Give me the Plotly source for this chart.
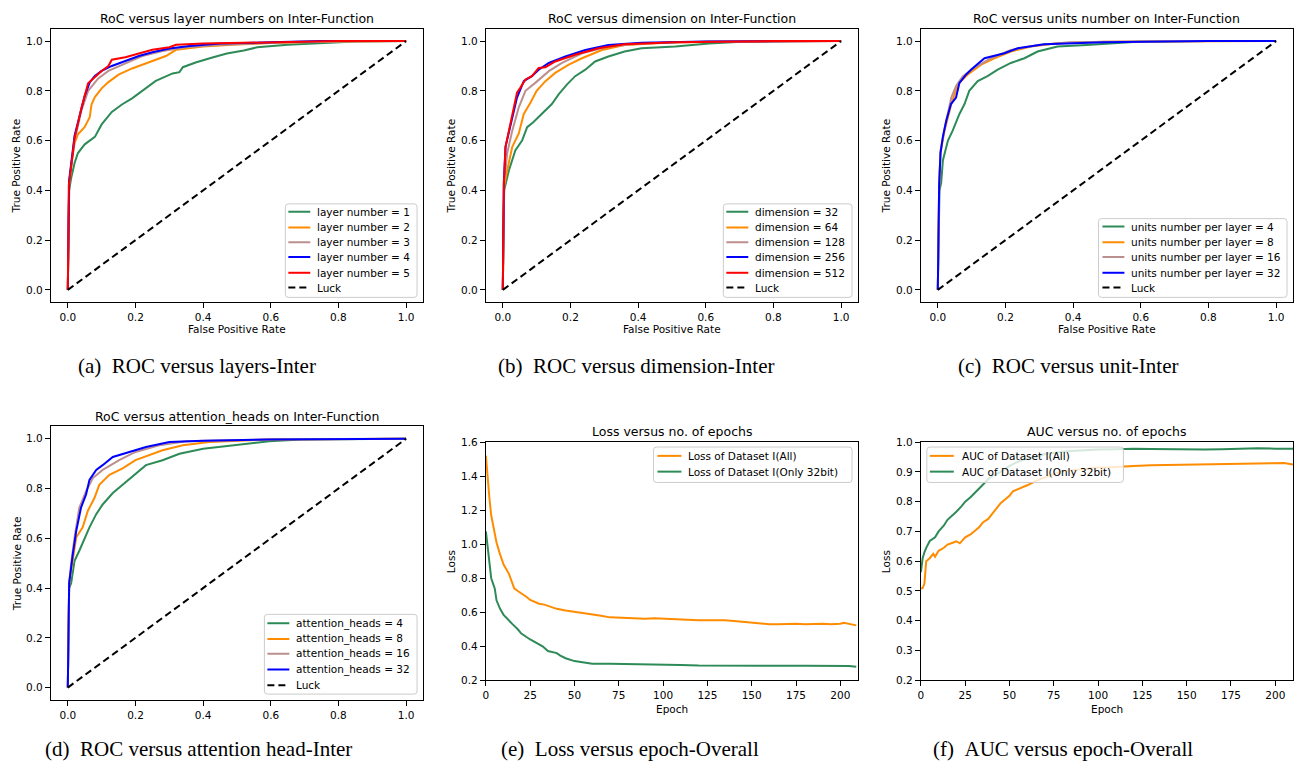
import plotly.graph_objects as go

W, H = 1301, 770

# ------------------------------------------------------------------ data
# (a) RoC versus layer numbers
A_LABELS = ["layer number = 1", "layer number = 2", "layer number = 3",
            "layer number = 4", "layer number = 5"]
A_FPR_1 = [0, 0.004, 0.01, 0.02, 0.03, 0.05, 0.08, 0.10, 0.13, 0.16, 0.19, 0.22, 0.26, 0.31,
           0.33, 0.34, 0.38, 0.43, 0.47, 0.52, 0.56, 0.65, 0.75, 0.85, 1.0]
A_TPR_1 = [0, 0.40, 0.45, 0.51, 0.55, 0.585, 0.615, 0.665, 0.715, 0.745, 0.77, 0.80, 0.84, 0.87,
           0.875, 0.895, 0.915, 0.935, 0.95, 0.962, 0.975, 0.985, 0.992, 0.998, 1.0]
A_FPR_2 = [0, 0.004, 0.012, 0.02, 0.03, 0.05, 0.065, 0.07, 0.08, 0.09, 0.10, 0.12, 0.15, 0.19,
           0.22, 0.27, 0.29, 0.32, 0.40, 0.50, 0.60, 0.80, 1.0]
A_TPR_2 = [0, 0.42, 0.52, 0.59, 0.625, 0.655, 0.695, 0.745, 0.775, 0.795, 0.81, 0.835, 0.865, 0.89,
           0.905, 0.93, 0.94, 0.965, 0.978, 0.986, 0.992, 0.998, 1.0]
A_FPR_3 = [0, 0.004, 0.02, 0.04, 0.06, 0.09, 0.12, 0.17, 0.22, 0.28, 0.35, 0.45, 0.6, 0.8, 1.0]
A_TPR_3 = [0, 0.43, 0.60, 0.72, 0.80, 0.85, 0.88, 0.91, 0.94, 0.96, 0.975, 0.985, 0.993, 0.998, 1.0]
A_FPR_4 = [0, 0.004, 0.02, 0.04, 0.05, 0.065, 0.08, 0.10, 0.13, 0.17, 0.21, 0.25, 0.30, 0.36,
           0.45, 0.6, 0.75, 1.0]
A_TPR_4 = [0, 0.44, 0.62, 0.73, 0.78, 0.835, 0.86, 0.88, 0.90, 0.92, 0.94, 0.955, 0.97, 0.98,
           0.99, 0.995, 1.0, 1.0]
A_FPR_5 = [0, 0.003, 0.02, 0.04, 0.06, 0.08, 0.10, 0.12, 0.13, 0.17, 0.21, 0.25, 0.30, 0.32,
           0.40, 0.6, 0.8, 1.0]
A_TPR_5 = [0, 0.42, 0.61, 0.73, 0.83, 0.855, 0.88, 0.90, 0.925, 0.935, 0.95, 0.965, 0.975, 0.985,
           0.99, 0.995, 1.0, 1.0]

# (b) RoC versus dimension
B_LABELS = ["dimension = 32", "dimension = 64", "dimension = 128",
            "dimension = 256", "dimension = 512"]
B_FPR_1 = [0, 0.004, 0.018, 0.037, 0.057, 0.072, 0.09, 0.116, 0.145, 0.165, 0.19, 0.214, 0.244,
           0.273, 0.312, 0.36, 0.41, 0.51, 0.61, 0.705, 0.85, 1.0]
B_TPR_1 = [0, 0.40, 0.48, 0.56, 0.60, 0.654, 0.674, 0.707, 0.747, 0.786, 0.826, 0.859, 0.885,
           0.918, 0.938, 0.958, 0.971, 0.978, 0.99, 0.997, 1.0, 1.0]
B_FPR_2 = [0, 0.004, 0.013, 0.028, 0.047, 0.062, 0.082, 0.10, 0.126, 0.155, 0.195, 0.234, 0.293,
           0.36, 0.51, 0.85, 1.0]
B_TPR_2 = [0, 0.42, 0.48, 0.575, 0.628, 0.707, 0.753, 0.80, 0.839, 0.872, 0.905, 0.931, 0.964,
           0.984, 0.995, 1.0, 1.0]
B_FPR_3 = [0, 0.004, 0.013, 0.028, 0.047, 0.067, 0.096, 0.136, 0.175, 0.234, 0.312, 0.41, 0.61, 1.0]
B_TPR_3 = [0, 0.43, 0.55, 0.64, 0.733, 0.80, 0.832, 0.879, 0.912, 0.951, 0.978, 0.99, 0.998, 1.0]
B_FPR_4 = [0, 0.003, 0.008, 0.023, 0.042, 0.062, 0.086, 0.106, 0.136, 0.185, 0.244, 0.312, 0.41,
           0.6, 1.0]
B_TPR_4 = [0, 0.43, 0.575, 0.668, 0.773, 0.839, 0.859, 0.885, 0.912, 0.938, 0.964, 0.984, 0.993,
           0.998, 1.0]
B_FPR_5 = [0, 0.003, 0.008, 0.023, 0.042, 0.052, 0.067, 0.086, 0.106, 0.126, 0.155, 0.214, 0.283,
           0.36, 0.51, 0.8, 1.0]
B_TPR_5 = [0, 0.42, 0.575, 0.675, 0.793, 0.813, 0.846, 0.859, 0.892, 0.895, 0.918, 0.945, 0.971,
           0.987, 0.995, 1.0, 1.0]

# (c) RoC versus units number
C_LABELS = ["units number per layer = 4", "units number per layer = 8",
            "units number per layer = 16", "units number per layer = 32"]
C_FPR_1 = [0, 0.005, 0.01, 0.015, 0.03, 0.044, 0.064, 0.079, 0.093, 0.118, 0.147, 0.177, 0.216,
           0.256, 0.295, 0.354, 0.44, 0.59, 0.8, 1.0]
C_TPR_1 = [0, 0.40, 0.43, 0.52, 0.60, 0.64, 0.707, 0.747, 0.80, 0.839, 0.859, 0.885, 0.912,
           0.931, 0.958, 0.978, 0.984, 0.997, 1.0, 1.0]
C_FPR_2 = [0, 0.004, 0.008, 0.02, 0.04, 0.06, 0.089, 0.128, 0.167, 0.216, 0.275, 0.354, 0.49, 0.8, 1.0]
C_TPR_2 = [0, 0.42, 0.55, 0.64, 0.747, 0.826, 0.866, 0.905, 0.931, 0.958, 0.978, 0.991, 0.997, 1.0, 1.0]
C_FPR_3 = [0, 0.004, 0.008, 0.02, 0.04, 0.054, 0.074, 0.108, 0.157, 0.216, 0.295, 0.39, 0.7, 1.0]
C_TPR_3 = [0, 0.42, 0.56, 0.65, 0.773, 0.82, 0.859, 0.892, 0.931, 0.964, 0.984, 0.995, 1.0, 1.0]
C_FPR_4 = [0, 0.004, 0.008, 0.015, 0.025, 0.039, 0.054, 0.064, 0.084, 0.098, 0.138, 0.197, 0.236,
           0.315, 0.49, 0.8, 1.0]
C_TPR_4 = [0, 0.42, 0.55, 0.615, 0.68, 0.747, 0.773, 0.832, 0.866, 0.885, 0.931, 0.951, 0.971,
           0.987, 0.995, 1.0, 1.0]

# (d) RoC versus attention heads
D_LABELS = ["attention_heads = 4", "attention_heads = 8",
            "attention_heads = 16", "attention_heads = 32"]
D_FPR_1 = [0, 0.004, 0.01, 0.02, 0.034, 0.05, 0.064, 0.084, 0.103, 0.133, 0.162, 0.20, 0.231,
           0.28, 0.33, 0.40, 0.50, 0.595, 0.69, 0.85, 1.0]
D_TPR_1 = [0, 0.40, 0.42, 0.51, 0.55, 0.604, 0.644, 0.697, 0.736, 0.782, 0.815, 0.861, 0.894,
           0.914, 0.94, 0.96, 0.974, 0.99, 0.997, 1.0, 1.0]
D_FPR_2 = [0, 0.004, 0.01, 0.025, 0.044, 0.059, 0.079, 0.093, 0.123, 0.162, 0.20, 0.24, 0.28,
           0.34, 0.418, 0.595, 0.85, 1.0]
D_TPR_2 = [0, 0.42, 0.472, 0.604, 0.644, 0.71, 0.763, 0.815, 0.855, 0.881, 0.914, 0.934, 0.954,
           0.974, 0.987, 0.997, 1.0, 1.0]
D_FPR_3 = [0, 0.004, 0.01, 0.02, 0.034, 0.054, 0.074, 0.103, 0.152, 0.20, 0.27, 0.35, 0.6, 1.0]
D_TPR_3 = [0, 0.42, 0.50, 0.604, 0.723, 0.789, 0.842, 0.875, 0.914, 0.947, 0.974, 0.99, 0.998, 1.0]
D_FPR_4 = [0, 0.004, 0.015, 0.025, 0.039, 0.054, 0.064, 0.084, 0.103, 0.133, 0.182, 0.231, 0.30,
           0.40, 0.595, 0.85, 1.0]
D_TPR_4 = [0, 0.42, 0.538, 0.63, 0.723, 0.776, 0.835, 0.875, 0.894, 0.927, 0.947, 0.967, 0.987,
           0.992, 0.997, 1.0, 1.0]

LUCK_X = [0, 1]
LUCK_Y = [0, 1]

# (e) Loss versus epochs
E_LABELS = ["Loss of Dataset I(All)", "Loss of Dataset I(Only 32bit)"]
E_EPOCH_ALL = [0, 1, 2, 3, 4, 5, 6, 8, 10, 13, 16, 18, 20, 23, 25, 28, 30, 33, 35, 38, 40, 45, 50,
               55, 60, 65, 70, 75, 80, 85, 90, 95, 100, 105, 110, 115, 120, 125, 130, 135, 140,
               145, 150, 155, 160, 165, 170, 175, 180, 185, 190, 195, 200, 202, 205, 209]
E_LOSS_ALL = [1.52, 1.38, 1.27, 1.17, 1.11, 1.06, 1.01, 0.94, 0.88, 0.826, 0.74, 0.725, 0.712,
              0.69, 0.672, 0.66, 0.65, 0.645, 0.637, 0.628, 0.62, 0.61, 0.603, 0.597, 0.59, 0.58,
              0.57, 0.568, 0.566, 0.56, 0.562, 0.565, 0.562, 0.558, 0.557, 0.555, 0.553, 0.553,
              0.555, 0.553, 0.548, 0.543, 0.537, 0.535, 0.53, 0.53, 0.532, 0.532, 0.53, 0.532,
              0.533, 0.53, 0.532, 0.538, 0.532, 0.523]
E_EPOCH_32 = [0, 1, 2, 3, 4, 5, 6, 7, 8, 10, 13, 15, 18, 20, 25, 30, 32, 35, 38, 40, 42, 45, 50,
              55, 60, 70, 80, 90, 100, 110, 120, 130, 140, 150, 160, 170, 180, 190, 200, 205, 209]
E_LOSS_32 = [1.076, 0.98, 0.86, 0.80, 0.77, 0.74, 0.67, 0.64, 0.62, 0.585, 0.55, 0.53, 0.50,
             0.475, 0.44, 0.412, 0.40, 0.372, 0.365, 0.36, 0.345, 0.33, 0.313, 0.305, 0.298,
             0.297, 0.296, 0.296, 0.294, 0.29, 0.287, 0.286, 0.284, 0.285, 0.285, 0.285, 0.286,
             0.286, 0.287, 0.284, 0.28]

# (f) AUC versus epochs
F_LABELS = ["AUC of Dataset I(All)", "AUC of Dataset I(Only 32bit)"]
F_EPOCH_ALL = [0, 1, 2, 3, 5, 7, 8, 10, 13, 15, 18, 20, 22, 25, 28, 30, 33, 35, 38, 40, 43, 45,
               48, 50, 52, 55, 60, 65, 70, 75, 80, 85, 90, 95, 100, 105, 110, 115, 120, 130, 140,
               150, 160, 170, 180, 190, 200, 205, 210]
F_AUC_ALL = [0.508, 0.51, 0.525, 0.60, 0.61, 0.625, 0.615, 0.635, 0.645, 0.656, 0.662, 0.667,
             0.66, 0.68, 0.69, 0.70, 0.715, 0.73, 0.742, 0.757, 0.78, 0.795, 0.81, 0.82, 0.835,
             0.842, 0.855, 0.87, 0.882, 0.893, 0.902, 0.905, 0.91, 0.912, 0.915, 0.915, 0.917,
             0.918, 0.92, 0.922, 0.923, 0.924, 0.925, 0.927, 0.928, 0.927, 0.928, 0.93, 0.925]
F_EPOCH_32 = [0, 1, 2, 3, 5, 8, 10, 13, 15, 18, 20, 23, 25, 28, 30, 33, 35, 38, 40, 45, 50, 55,
              60, 65, 70, 75, 80, 85, 90, 100, 110, 115, 120, 130, 140, 150, 160, 170, 180, 185,
              190, 200, 210]
F_AUC_32 = [0.563, 0.61, 0.63, 0.645, 0.668, 0.68, 0.70, 0.72, 0.739, 0.755, 0.766, 0.785, 0.80,
            0.815, 0.827, 0.845, 0.86, 0.875, 0.885, 0.90, 0.92, 0.935, 0.945, 0.95, 0.96, 0.965,
            0.968, 0.97, 0.972, 0.975, 0.976, 0.977, 0.978, 0.977, 0.976, 0.977, 0.975, 0.976,
            0.978, 0.98, 0.979, 0.978, 0.978]

TITLES = ["RoC versus layer numbers on Inter-Function",
          "RoC versus dimension on Inter-Function",
          "RoC versus units number on Inter-Function",
          "RoC versus attention_heads on Inter-Function",
          "Loss versus no. of epochs",
          "AUC versus no. of epochs"]
CAPTIONS = ["(a)\u00a0\u00a0ROC versus layers-Inter",
            "(b)\u00a0\u00a0ROC versus dimension-Inter",
            "(c)\u00a0\u00a0ROC versus unit-Inter",
            "(d)\u00a0\u00a0ROC versus attention head-Inter",
            "(e)\u00a0\u00a0Loss versus epoch-Overall",
            "(f)\u00a0\u00a0AUC versus epoch-Overall"]

# ------------------------------------------------------------------ style / layout
GREEN, ORANGE, BROWN, BLUE, RED = "#2e8b57", "#ff8c00", "#bc8f8f", "#0000ff", "#ff0000"
FONT = "DejaVu Sans"
SERIF = "Liberation Serif"
TICK_SIZE = 10.5
LABEL_SIZE = 10.5
TITLE_SIZE = 12.5
CAPTION_SIZE = 21
LW = 2

# plot boxes in pixels: (left, right, top, bottom)
BOXES = {
    1: (48, 421, 23, 301),
    2: (484, 857, 23, 301),
    3: (920, 1293, 23, 301),
    4: (48, 421, 427, 705),
    5: (484, 857, 443, 685),
    6: (920, 1293, 443, 685),
}
TITLE_Y = {1: 13, 2: 13, 3: 13, 4: 417, 5: 432, 6: 432}
XLABEL_Y = {1: 328, 2: 328, 3: 328, 5: 714, 6: 714}
YLABEL_X = {1: 14, 2: 450, 3: 886, 4: 14, 5: 449, 6: 885}
CAPTION_POS = {1: (194, 366), 2: (634, 366), 3: (1067, 366),
               4: (196, 755), 5: (628, 755), 6: (1062, 755)}

# legend geometry in pixels
TEXT_DX = -3
LEGENDS = {
    1: dict(box=(283, 415, 201, 296), line=(286, 308), text=316, rows=[209, 225, 240, 255, 271, 286]),
    2: dict(box=(722, 851, 201, 296), line=(725, 747), text=755, rows=[209, 225, 240, 255, 271, 286]),
    3: dict(box=(1098, 1287, 216, 296), line=(1102, 1124), text=1132, rows=[224, 240, 255, 271, 286]),
    4: dict(box=(262, 415, 618, 699), line=(265, 287), text=295, rows=[627, 643, 658, 674, 690]),
    5: dict(box=(652, 851, 448, 484), line=(656, 680), text=688, rows=[457, 473]),
    6: dict(box=(926, 1123, 448, 484), line=(929, 953), text=962, rows=[457, 473]),
}


def PX(x):
    return x / W


def PY(y):
    return 1 - y / H


fig = go.Figure()


def add_line(i, x, y, color, dash="solid"):
    fig.add_trace(go.Scatter(
        x=x, y=y, mode="lines",
        line=dict(color=color, width=LW, dash=dash),
        xaxis="x" if i == 1 else f"x{i}", yaxis="y" if i == 1 else f"y{i}",
        showlegend=False, hoverinfo="skip"))


ROC_COLORS5 = [GREEN, ORANGE, BROWN, BLUE, RED]
ROC_COLORS4 = [GREEN, ORANGE, BROWN, BLUE]
LUCK_DASH = "7px,4px"

for x, y, c in zip([A_FPR_1, A_FPR_2, A_FPR_3, A_FPR_4, A_FPR_5],
                   [A_TPR_1, A_TPR_2, A_TPR_3, A_TPR_4, A_TPR_5], ROC_COLORS5):
    add_line(1, x, y, c)
add_line(1, LUCK_X, LUCK_Y, "black", LUCK_DASH)

for x, y, c in zip([B_FPR_1, B_FPR_2, B_FPR_3, B_FPR_4, B_FPR_5],
                   [B_TPR_1, B_TPR_2, B_TPR_3, B_TPR_4, B_TPR_5], ROC_COLORS5):
    add_line(2, x, y, c)
add_line(2, LUCK_X, LUCK_Y, "black", LUCK_DASH)

for x, y, c in zip([C_FPR_1, C_FPR_2, C_FPR_3, C_FPR_4],
                   [C_TPR_1, C_TPR_2, C_TPR_3, C_TPR_4], ROC_COLORS4):
    add_line(3, x, y, c)
add_line(3, LUCK_X, LUCK_Y, "black", LUCK_DASH)

for x, y, c in zip([D_FPR_1, D_FPR_2, D_FPR_3, D_FPR_4],
                   [D_TPR_1, D_TPR_2, D_TPR_3, D_TPR_4], ROC_COLORS4):
    add_line(4, x, y, c)
add_line(4, LUCK_X, LUCK_Y, "black", LUCK_DASH)

add_line(5, E_EPOCH_ALL, E_LOSS_ALL, ORANGE)
add_line(5, E_EPOCH_32, E_LOSS_32, GREEN)

add_line(6, F_EPOCH_ALL, F_AUC_ALL, ORANGE)
add_line(6, F_EPOCH_32, F_AUC_32, GREEN)

# ------------------------------------------------------------------ axes
def axis_common():
    return dict(showline=True, linecolor="black", linewidth=1, mirror=True,
                ticks="outside", ticklen=5, tickwidth=1, tickcolor="black",
                showgrid=False, zeroline=False,
                tickfont=dict(family=FONT, size=TICK_SIZE, color="black"))


layout_axes = {}
for i, (l, r, t, b) in BOXES.items():
    xa = axis_common()
    ya = axis_common()
    xa["domain"] = [PX(l), PX(r)]
    ya["domain"] = [PY(b), PY(t)]
    xa["anchor"] = "y" if i == 1 else f"y{i}"
    ya["anchor"] = "x" if i == 1 else f"x{i}"
    if i <= 4:
        xa.update(range=[-0.05, 1.05], tickvals=[0, 0.2, 0.4, 0.6, 0.8, 1.0], tickformat=".1f")
        ya.update(range=[-0.05, 1.05], tickvals=[0, 0.2, 0.4, 0.6, 0.8, 1.0], tickformat=".1f")
    elif i == 5:
        xa.update(range=[0, 210], tickvals=[0, 25, 50, 75, 100, 125, 150, 175, 200])
        ya.update(range=[0.2, 1.6], tickvals=[0.2, 0.4, 0.6, 0.8, 1.0, 1.2, 1.4, 1.6],
                  tickformat=".1f")
    else:
        xa.update(range=[0, 210], tickvals=[0, 25, 50, 75, 100, 125, 150, 175, 200])
        ya.update(range=[0.2, 1.0], tickvals=[0.2, 0.3, 0.4, 0.5, 0.6, 0.7, 0.8, 0.9, 1.0],
                  tickformat=".1f")
    layout_axes["xaxis" if i == 1 else f"xaxis{i}"] = xa
    layout_axes["yaxis" if i == 1 else f"yaxis{i}"] = ya

annotations = []
shapes = []

YLABELS = {1: "True Positive Rate", 2: "True Positive Rate", 3: "True Positive Rate",
           4: "True Positive Rate", 5: "Loss", 6: "Loss"}
XLABELS = {1: "False Positive Rate", 2: "False Positive Rate", 3: "False Positive Rate",
           5: "Epoch", 6: "Epoch"}

for i, (l, r, t, b) in BOXES.items():
    cx = (l + r) / 2
    annotations.append(dict(text=TITLES[i - 1], x=PX(cx), y=PY(TITLE_Y[i]), xref="paper",
                            yref="paper", showarrow=False, xanchor="center", yanchor="middle",
                            font=dict(family=FONT, size=TITLE_SIZE, color="black")))
    if i in XLABELS:
        annotations.append(dict(text=XLABELS[i], x=PX(cx), y=PY(XLABEL_Y[i]), xref="paper",
                                yref="paper", showarrow=False, xanchor="center",
                                yanchor="middle",
                                font=dict(family=FONT, size=LABEL_SIZE, color="black")))
    annotations.append(dict(text=YLABELS[i], x=PX(YLABEL_X[i]), y=PY((t + b) / 2),
                            xref="paper", yref="paper", showarrow=False, textangle=-90,
                            xanchor="center", yanchor="middle",
                            font=dict(family=FONT, size=LABEL_SIZE, color="black")))
    cpx, cpy = CAPTION_POS[i]
    annotations.append(dict(text=CAPTIONS[i - 1], x=PX(cpx), y=PY(cpy), xref="paper",
                            yref="paper", showarrow=False, xanchor="center", yanchor="middle",
                            font=dict(family=SERIF, size=CAPTION_SIZE, color="black")))


def rounded_rect(x0, x1, y0, y1, r=3):
    pts = [("M", x0 + r, y0), ("L", x1 - r, y0), ("Q", x1, y0, x1, y0 + r),
           ("L", x1, y1 - r), ("Q", x1, y1, x1 - r, y1), ("L", x0 + r, y1),
           ("Q", x0, y1, x0, y1 - r), ("L", x0, y0 + r), ("Q", x0, y0, x0 + r, y0)]
    s = ""
    for p in pts:
        cmd = p[0]
        coords = p[1:]
        parts = []
        for k in range(0, len(coords), 2):
            parts.append(f"{PX(coords[k]):.5f},{PY(coords[k + 1]):.5f}")
        s += cmd + " " + " ".join(parts) + " "
    return s + "Z"


LEGEND_ITEMS = {
    1: (A_LABELS + ["Luck"], ROC_COLORS5 + ["black"]),
    2: (B_LABELS + ["Luck"], ROC_COLORS5 + ["black"]),
    3: (C_LABELS + ["Luck"], ROC_COLORS4 + ["black"]),
    4: (D_LABELS + ["Luck"], ROC_COLORS4 + ["black"]),
    5: (E_LABELS, [ORANGE, GREEN]),
    6: (F_LABELS, [ORANGE, GREEN]),
}

for i, lg in LEGENDS.items():
    x0, x1, y0, y1 = lg["box"]
    shapes.append(dict(type="path", path=rounded_rect(x0, x1, y0, y1), xref="paper",
                       yref="paper", fillcolor="rgba(255,255,255,0.8)",
                       line=dict(color="#cccccc", width=1), layer="above"))
    labels, colors = LEGEND_ITEMS[i]
    for lab, col, ry in zip(labels, colors, lg["rows"]):
        dash = LUCK_DASH if lab == "Luck" else "solid"
        shapes.append(dict(type="line", x0=PX(lg["line"][0]), x1=PX(lg["line"][1]),
                           y0=PY(ry), y1=PY(ry), xref="paper", yref="paper",
                           line=dict(color=col, width=LW, dash=dash), layer="above"))
        annotations.append(dict(text=lab, x=PX(lg["text"] + TEXT_DX), y=PY(ry), xref="paper",
                                yref="paper", showarrow=False, xanchor="left",
                                yanchor="middle",
                                font=dict(family=FONT, size=LABEL_SIZE, color="black")))

fig.update_layout(
    width=W, height=H,
    margin=dict(l=0, r=0, t=0, b=0),
    paper_bgcolor="white", plot_bgcolor="white",
    showlegend=False,
    annotations=annotations,
    shapes=shapes,
    **layout_axes,
)

fig.write_html("out.html",
               config={"displayModeBar": False},
               post_script="document.body.style.margin='0';"
                           "document.body.style.overflow='hidden';")
